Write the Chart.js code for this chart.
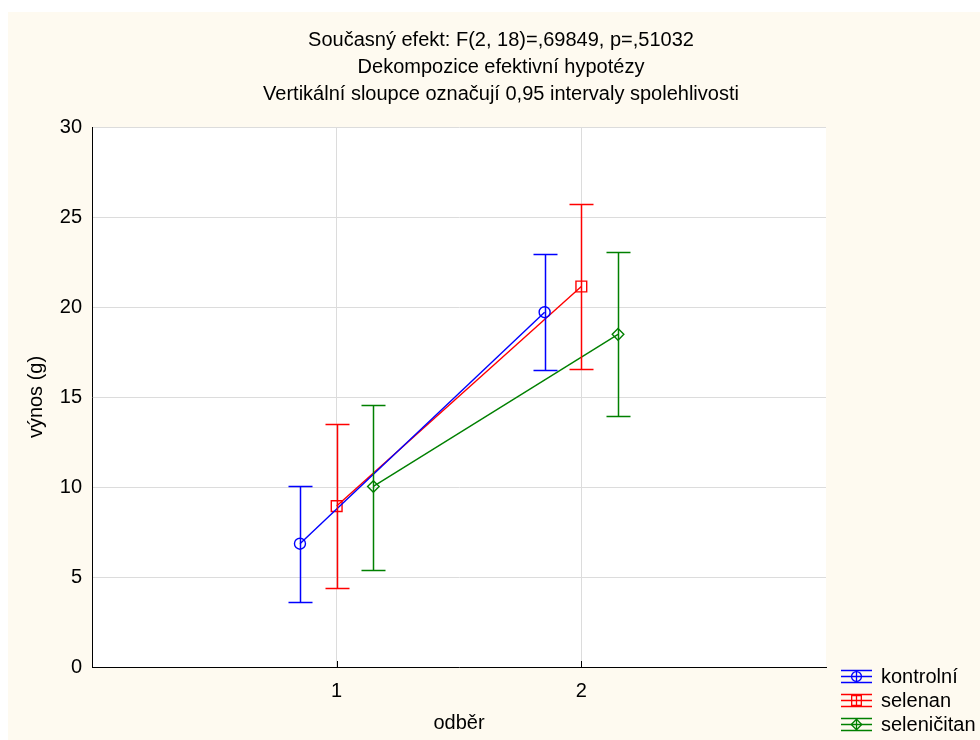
<!DOCTYPE html>
<html>
<head>
<meta charset="utf-8">
<script src="https://cdn.jsdelivr.net/npm/chart.js@4/dist/chart.umd.min.js"></script>
<style>
  html, body { margin: 0; padding: 0; background: #fff; }
  canvas { display: block; }
</style>
</head>
<body>
<canvas id="chart" width="980" height="740"></canvas>
<script>
const groups = ["1", "2"];
const seriesNames = ["kontrolní", "selenan", "seleničitan"];
const seriesColors = ["#0000ff", "#ff0000", "#008000"];
const seriesMarkers = ["circle", "rect", "rectRot"];

const kontrolni = [6.85, 19.71];
const kontrolniLo = [3.62, 16.49];
const kontrolniHi = [10.07, 22.97];

const selenan = [8.94, 21.14];
const selenanLo = [4.38, 16.56];
const selenanHi = [13.5, 25.71];

const selenicitan = [10.03, 18.48];
const selenicitanLo = [5.41, 13.92];
const selenicitanHi = [14.56, 23.07];

const yTicks = [0, 5, 10, 15, 20, 25, 30];

const titleLines = [
    "Současný efekt: F(2, 18)=,69849, p=,51032",
    "Dekompozice efektivní hypotézy",
    "Vertikální sloupce označují 0,95 intervaly spolehlivosti",
];

const FONT = '"Liberation Sans", Arial, sans-serif';
const FS = 20;
const dodge = [-0.15, 0, 0.15];
const means = [kontrolni, selenan, selenicitan];
const lows = [kontrolniLo, selenanLo, selenicitanLo];
const highs = [kontrolniHi, selenanHi, selenicitanHi];
const radii = [5.5, 7.6, 5.8];

const datasets = seriesNames.map((name, s) => ({
    label: name,
    data: means[s].map((v, i) => ({ x: i + 1 + dodge[s], y: v })),
    lo: lows[s],
    hi: highs[s],
    borderColor: seriesColors[s],
    borderWidth: 1.4,
    pointStyle: seriesMarkers[s],
    pointRadius: radii[s],
    pointBorderWidth: 1.4,
    pointBorderColor: seriesColors[s],
    pointBackgroundColor: "rgba(0,0,0,0)",
    tension: 0,
    fill: false,
}));

// background: white frame, cream page, white plot
const background = {
    id: "background",
    beforeDraw(chart) {
        const { ctx, chartArea: a } = chart;
        ctx.save();
        ctx.fillStyle = "#ffffff";
        ctx.fillRect(0, 0, chart.width, chart.height);
        ctx.fillStyle = "#fefaf0";
        ctx.fillRect(8, 12, chart.width - 8, chart.height - 12);
        ctx.fillStyle = "#ffffff";
        ctx.fillRect(a.left, a.top, a.right - a.left, a.bottom - a.top);
        ctx.restore();
    },
};

// vertical confidence interval bars
const errorBars = {
    id: "errorBars",
    afterDatasetsDraw(chart) {
        const { ctx } = chart;
        const xs = chart.scales.x;
        const ys = chart.scales.y;
        ctx.save();
        ctx.lineWidth = 1.5;
        chart.data.datasets.forEach((ds) => {
            ctx.strokeStyle = ds.borderColor;
            ds.data.forEach((p, i) => {
                const x = Math.round(xs.getPixelForValue(p.x)) + 0.5;
                const yl = Math.round(ys.getPixelForValue(ds.lo[i])) + 0.5;
                const yh = Math.round(ys.getPixelForValue(ds.hi[i])) + 0.5;
                ctx.beginPath();
                ctx.moveTo(x, yl);
                ctx.lineTo(x, yh);
                ctx.moveTo(x - 12, yl);
                ctx.lineTo(x + 12, yl);
                ctx.moveTo(x - 12, yh);
                ctx.lineTo(x + 12, yh);
                ctx.stroke();
            });
        });
        // inner tick marks on the x axis
        ctx.lineWidth = 1;
        ctx.strokeStyle = "#000";
        xs.ticks.forEach((t) => {
            const x = Math.round(xs.getPixelForValue(t.value)) + 0.5;
            ctx.beginPath();
            ctx.moveTo(x, xs.top);
            ctx.lineTo(x, xs.top - 6);
            ctx.stroke();
        });
        ctx.restore();
    },
};

// title lines and legend
const texts = {
    id: "texts",
    afterDraw(chart) {
        const { ctx } = chart;
        ctx.save();
        ctx.fillStyle = "#000";
        ctx.font = FS + "px " + FONT;
        ctx.textAlign = "center";
        ctx.textBaseline = "middle";
        titleLines.forEach((t, i) => ctx.fillText(t, 501, 40 + i * 27));

        ctx.textAlign = "left";
        chart.data.datasets.forEach((ds, s) => {
            const cy = 676 + s * 24;
            const x0 = 841, x1 = 872, cx = (x0 + x1) / 2;
            ctx.strokeStyle = ds.borderColor;
            ctx.lineWidth = 1.3;
            ctx.beginPath();
            [-6, 0, 6].forEach((d) => {
                ctx.moveTo(x0, cy + d + 0.5);
                ctx.lineTo(x1, cy + d + 0.5);
            });
            ctx.moveTo(cx, cy - 6);
            ctx.lineTo(cx, cy + 6);
            ctx.stroke();
            ctx.fillStyle = "rgba(0,0,0,0)";
            Chart.helpers.drawPoint(ctx, {
                pointStyle: ds.pointStyle,
                radius: ds.pointRadius * 0.9,
                rotation: 0,
                borderWidth: 1.3,
            }, cx, cy + 0.5);
            ctx.fillStyle = "#000";
            ctx.fillText(ds.label, 881, cy + 1);
        });
        ctx.restore();
    },
};

new Chart(document.getElementById("chart"), {
    type: "line",
    data: { datasets },
    options: {
        responsive: false,
        animation: false,
        devicePixelRatio: 1,
        layout: { padding: { left: 0, right: 154, top: 127, bottom: 0 } },
        plugins: {
            legend: { display: false },
            title: { display: false },
            tooltip: { enabled: false },
        },
        scales: {
            x: {
                type: "linear",
                min: 0,
                max: 3,
                afterBuildTicks(scale) {
                    scale.ticks = groups.map((g, i) => ({ value: i + 1 }));
                },
                afterFit(scale) { scale.height = 73; },
                grid: { color: "#dcdcdc", drawTicks: false },
                border: { display: true, color: "#000", width: 1 },
                ticks: {
                    color: "#000",
                    font: { size: FS, family: FONT },
                    padding: 12,
                    callback: (v) => groups[v - 1],
                },
                title: {
                    display: true,
                    text: "odběr",
                    color: "#000",
                    font: { size: FS, family: FONT },
                    padding: { top: 0, bottom: 5 },
                },
            },
            y: {
                min: 0,
                max: 30,
                afterBuildTicks(scale) {
                    scale.ticks = yTicks.map((v) => ({ value: v }));
                },
                afterFit(scale) { scale.width = 92; },
                grid: { color: "#dcdcdc", drawTicks: false },
                border: { display: true, color: "#000", width: 1 },
                ticks: {
                    color: "#000",
                    font: { size: FS, family: FONT },
                    padding: 10,
                },
                title: {
                    display: true,
                    text: "výnos (g)",
                    color: "#000",
                    font: { size: FS, family: FONT },
                    padding: { top: 24, bottom: 0 },
                },
            },
        },
    },
    plugins: [background, errorBars, texts],
});
</script>
</body>
</html>
